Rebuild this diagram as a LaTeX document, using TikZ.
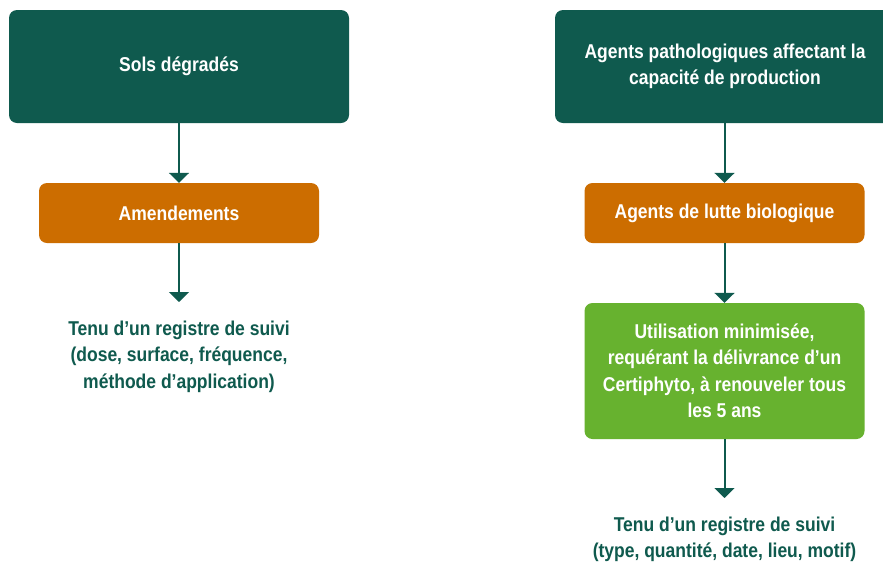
\documentclass[tikz,border=0pt]{standalone}
\usepackage{fontspec}
\setmainfont{Liberation Sans}[FakeStretch=0.875]
\usetikzlibrary{arrows.meta}
\definecolor{dkgreen}{HTML}{0F5A4E}
\definecolor{orng}{HTML}{CC6D00}
\definecolor{ltgreen}{HTML}{67B22F}
\tikzset{
  boxtxt/.style={font=\fontsize{20}{26.5}\selectfont\bfseries, text=white, align=center, rounded corners=8pt, inner sep=0pt},
  topbox/.style={boxtxt, fill=dkgreen, minimum width=340pt, minimum height=113pt},
  midbox/.style={boxtxt, fill=orng, minimum width=280pt, minimum height=60pt},
  lowbox/.style={boxtxt, fill=ltgreen, minimum width=280pt, minimum height=136pt},
  notetxt/.style={font=\fontsize{20}{26.5}\selectfont\bfseries, text=dkgreen, align=center, anchor=north, inner xsep=0pt, inner ysep=18.5pt},
  conn/.style={draw=dkgreen, line width=2pt, -{Triangle[width=20pt,length=10pt]}}
}
\begin{document}
\begin{tikzpicture}[x=1pt,y=-1pt]
\clip (0,0) rectangle (883,563);
\fill[white] (0,0) rectangle (883,563);
% left column
\node[topbox] (a1) at (179,66.5) {Sols dégradés};
\node[midbox] (a2) at (179,213) {Amendements};
\node[notetxt] (a3) at (179,302) {Tenu d’un registre de suivi\\(dose, surface, fréquence,\\méthode d’application)};
\draw[conn] (a1.south) -- (a2.north);
\draw[conn] (a2.south) -- (a3.north);
% right column
\node[topbox] (b1) at (725,66.5) {Agents pathologiques affectant la\\capacité de production};
\node[midbox] (b2) at (724.5,213) {Agents de lutte biologique};
\node[lowbox] (b3) at (724.5,371) {Utilisation minimisée,\\requérant la délivrance d’un\\Certiphyto, à renouveler tous\\les 5 ans};
\node[notetxt] (b4) at (724.5,498) {Tenu d’un registre de suivi\\(type, quantité, date, lieu, motif)};
\draw[conn] (b1.south -| b2.north) -- (b2.north);
\draw[conn] (b2.south) -- (b3.north);
\draw[conn] (b3.south) -- (b4.north);
\end{tikzpicture}
\end{document}
